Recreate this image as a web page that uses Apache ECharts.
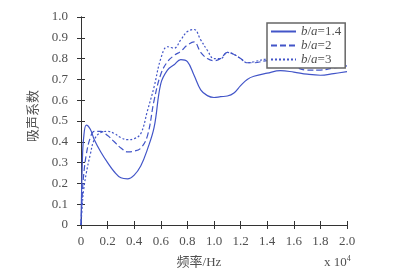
<!DOCTYPE html>
<html>
<head>
<meta charset="utf-8">
<script src="https://cdn.jsdelivr.net/npm/echarts@6/dist/echarts.min.js"></script>
<style>
  html, body { margin: 0; padding: 0; background: #fff; }
  #chart { width: 402px; height: 275px; }
</style>
</head>
<body>
<div id="chart"></div>
<script>
// 频率 (x 10^4 Hz)
const freq = [0, 0.01, 0.02, 0.04, 0.07, 0.1, 0.15, 0.2, 0.25, 0.3, 0.35, 0.4, 0.45, 0.5, 0.55, 0.6, 0.65, 0.7, 0.75, 0.8, 0.85, 0.9, 0.95, 1.0, 1.05, 1.1, 1.15, 1.2, 1.25, 1.3, 1.4, 1.5, 1.6, 1.7, 1.8, 1.9, 2.0]
// 吸声系数
const ratio14 = [0, 0.30, 0.42, 0.48, 0.46, 0.41, 0.35, 0.30, 0.256, 0.227, 0.222, 0.24, 0.285, 0.365, 0.47, 0.68, 0.745, 0.77, 0.795, 0.785, 0.72, 0.65, 0.622, 0.613, 0.617, 0.62, 0.635, 0.67, 0.70, 0.715, 0.73, 0.742, 0.735, 0.725, 0.72, 0.728, 0.737]
const ratio2 = [0, 0.15, 0.24, 0.34, 0.42, 0.45, 0.45, 0.43, 0.40, 0.37, 0.352, 0.355, 0.37, 0.43, 0.60, 0.725, 0.785, 0.815, 0.835, 0.865, 0.88, 0.83, 0.80, 0.79, 0.80, 0.83, 0.82, 0.80, 0.78, 0.78, 0.79, 0.775, 0.76, 0.745, 0.745, 0.755, 0.765]
const ratio3 = [0, 0.10, 0.17, 0.25, 0.34, 0.41, 0.445, 0.45, 0.44, 0.42, 0.41, 0.415, 0.44, 0.55, 0.665, 0.80, 0.857, 0.85, 0.89, 0.93, 0.94, 0.89, 0.84, 0.80, 0.80, 0.83, 0.82, 0.80, 0.78, 0.785, 0.797, 0.785, 0.775, 0.77, 0.772, 0.782, 0.793]
const seriesNames = ["b/a=1.4", "b/a=2", "b/a=3"]

const lineColor = "#4255c8"
const textColor = "#505050"
const serif = "'Liberation Serif', 'Noto Sans CJK SC', serif"

const pairs = (ys) => freq.map((f, i) => [f, ys[i]])
const fmt = (v) => (v === 0 ? "0" : v.toFixed(1))

const chart = echarts.init(document.getElementById("chart"))

const tickAxis = (extra) => Object.assign({
  type: "value",
  axisLine: { show: true, lineStyle: { color: "#333", width: 1 } },
  axisTick: { show: true, inside: true, length: 4, lineStyle: { color: "#333" } },
  splitLine: { show: false },
}, extra)

const option = {
  animation: false,
  grid: { left: 81, right: 55, top: 17, bottom: 50 },
  xAxis: [
    tickAxis({
      min: 0, max: 2, interval: 0.2, position: "bottom",
      axisLabel: { color: textColor, fontFamily: serif, fontSize: 13, margin: 10, formatter: fmt },
    }),
    tickAxis({ min: 0, max: 2, interval: 0.2, position: "top", axisLabel: { show: false } }),
  ],
  yAxis: [
    tickAxis({
      min: 0, max: 1, interval: 0.1, position: "left",
      axisLabel: { color: textColor, fontFamily: serif, fontSize: 13, margin: 13, formatter: fmt },
    }),
    tickAxis({ min: 0, max: 1, interval: 0.1, position: "right", axisLabel: { show: false } }),
  ],
  legend: {
    orient: "vertical",
    left: 267,
    top: 23,
    itemWidth: 25,
    itemHeight: 8,
    itemGap: 1,
    padding: [2, 4, 2, 3],
    borderColor: "#666",
    borderWidth: 1.5,
    backgroundColor: "#fff",
    data: seriesNames,
    itemStyle: { opacity: 0 },
    formatter: (name) => "{i|b}/{i|a}" + name.slice(3),
    textStyle: {
      color: textColor,
      fontFamily: serif,
      fontSize: 13,
      lineHeight: 11,
      rich: { i: { fontStyle: "italic", fontFamily: serif, fontSize: 13, color: textColor } },
    },
  },
  graphic: [
    {
      type: "text",
      x: 34,
      y: 116,
      rotation: Math.PI / 2,
      style: { text: "吸声系数", fill: textColor, font: "13px " + serif, textAlign: "center", textVerticalAlign: "middle" },
    },
    {
      type: "text",
      x: 199,
      y: 263,
      style: { text: "频率/Hz", fill: textColor, font: "13px " + serif, textAlign: "center", textVerticalAlign: "middle" },
    },
    {
      type: "text",
      x: 324,
      y: 263,
      style: {
        text: "x 10{s|4}",
        fill: textColor,
        font: "13px " + serif,
        textVerticalAlign: "middle",
        rich: { s: { fontSize: 8, fontFamily: serif, fill: textColor, verticalAlign: "top", padding: [0, 0, 8, 0] } },
      },
    },
  ],
  series: [
    { name: seriesNames[0], data: pairs(ratio14), type: "line", smooth: 0.4, symbol: "none", lineStyle: { color: lineColor, width: 1.2, type: "solid" }, itemStyle: { color: lineColor } },
    { name: seriesNames[1], data: pairs(ratio2), type: "line", smooth: 0.4, symbol: "none", lineStyle: { color: lineColor, width: 1.2, type: [6, 3] }, itemStyle: { color: lineColor } },
    { name: seriesNames[2], data: pairs(ratio3), type: "line", smooth: 0.4, symbol: "none", lineStyle: { color: lineColor, width: 1.2, type: [2, 2] }, itemStyle: { color: lineColor } },
  ],
}
chart.setOption(option)
</script>
</body>
</html>
